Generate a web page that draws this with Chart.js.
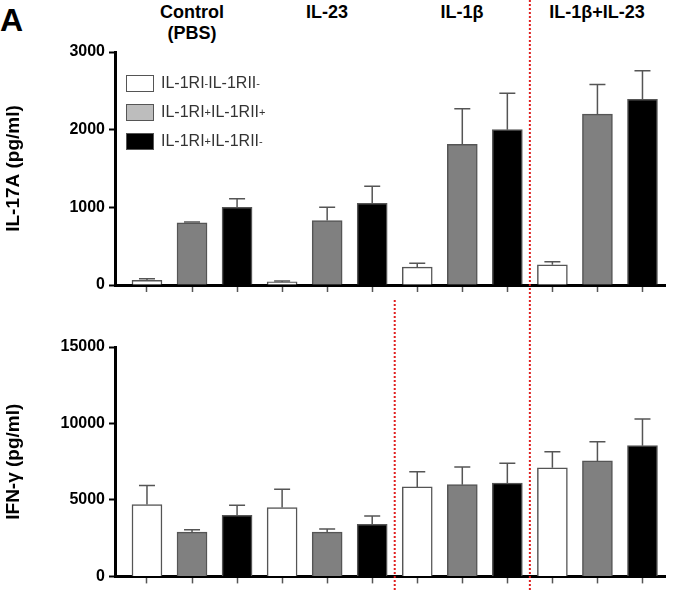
<!DOCTYPE html>
<html><head><meta charset="utf-8">
<script src="https://cdn.jsdelivr.net/npm/chart.js@4"></script>
<style>
body{margin:0;width:681px;height:590px;background:#fff;position:relative;font-family:Arial,"Liberation Sans",sans-serif;overflow:hidden}
canvas{position:absolute;left:0}
.hd{position:absolute;font-weight:bold;font-size:18px;text-align:center;transform:translateX(-50%);line-height:21px;color:#000;white-space:nowrap}
.lg{position:absolute;left:126px;font-size:16px;color:#333;display:flex;align-items:center;white-space:nowrap}
.lg span{display:inline-block;width:28px;height:17px;border:1.5px solid #555;margin-right:7px;box-sizing:border-box}
sup{font-size:11px;vertical-align:6px;line-height:0}
</style></head>
<body>
<div class="hd" style="left:0;top:2px;transform:none;font-size:32px;line-height:36px">A</div>
<div class="hd" style="left:192px;top:2px">Control<br>(PBS)</div>
<div class="hd" style="left:327px;top:2px">IL-23</div>
<div class="hd" style="left:462px;top:2px">IL-1β</div>
<div class="hd" style="left:597px;top:2px">IL-1β+IL-23</div>
<canvas id="top" width="681" height="300" style="top:0"></canvas>
<canvas id="bot" width="681" height="290" style="top:300px"></canvas>
<div class="lg" style="top:74px"><span style="background:#fff"></span>IL-1RI<sup>-</sup>IL-1RII<sup>-</sup></div>
<div class="lg" style="top:103px"><span style="background:#bdbdbd"></span>IL-1RI<sup>+</sup>IL-1RII<sup>+</sup></div>
<div class="lg" style="top:132px"><span style="background:#000"></span>IL-1RI<sup>+</sup>IL-1RII<sup>-</sup></div>
<script>
const groups = ['Control (PBS)', 'IL-23', 'IL-1β', 'IL-1β+IL-23'];
const barColors = ['#ffffff', '#808080', '#000000'];
const il17Values = [60, 800, 1000, 40, 830, 1050, 230, 1810, 2000, 260, 2200, 2390];
const il17Errors = [20, 10, 110, 10, 170, 220, 50, 460, 470, 40, 380, 370];
const ifnValues = [4700, 2900, 4000, 4500, 2900, 3400, 5850, 6000, 6100, 7100, 7550, 8550];
const ifnErrors = [1250, 150, 650, 1200, 200, 550, 1000, 1150, 1300, 1050, 1250, 1750];
const il17Ticks = [0, 1000, 2000, 3000];
const ifnTicks = [0, 5000, 10000, 15000];
const dividers = [3.5, 6.5, 9.5];

const errPlugin = {
  id: 'err',
  afterDatasetsDraw(chart, args, opts) {
    const ctx = chart.ctx, y = chart.scales.y;
    const meta = chart.getDatasetMeta(0);
    ctx.save();
    ctx.strokeStyle = '#555'; ctx.lineWidth = 1.5;
    meta.data.forEach((bar, i) => {
      const top = y.getPixelForValue(opts.values[i] + opts.errors[i]);
      ctx.beginPath();
      ctx.moveTo(bar.x, bar.y); ctx.lineTo(bar.x, top);
      ctx.moveTo(bar.x - 8, top); ctx.lineTo(bar.x + 8, top);
      ctx.stroke();
    });
    // dotted red dividers
    ctx.strokeStyle = '#e02020'; ctx.lineWidth = 2; ctx.setLineDash([2, 2]);
    dividers.forEach((d, k) => {
      const x = chart.scales.x.getPixelForValue(d);
      (opts.segs[k] || [[0, chart.height]]).forEach(s => {
        ctx.beginPath(); ctx.moveTo(x, s[0]); ctx.lineTo(x, s[1]); ctx.stroke();
      });
    });
    ctx.restore();
  }
};

function makeChart(id, values, errors, ticks, title, padTop, bottomH, segs) {
  const xs = values.map((v, i) => ({ x: i + 1, y: v }));
  new Chart(document.getElementById(id), {
    type: 'bar',
    data: { datasets: [{
      data: xs,
      backgroundColor: values.map((v, i) => barColors[i % 3]),
      borderColor: '#555', borderWidth: 1.5, borderSkipped: 'bottom',
      barThickness: 30
    }] },
    options: {
      responsive: false, animation: false,
      layout: { padding: { top: padTop, left: 0, right: 16, bottom: 0 } },
      plugins: { legend: { display: false }, tooltip: { enabled: false },
        err: { values, errors, segs } },
      scales: {
        x: {
          type: 'linear', min: 0.29, max: 12.5, offset: false,
          afterFit: s => { s.height = bottomH; },
          ticks: { stepSize: 1, includeBounds: false, callback: () => '' },
          grid: { drawOnChartArea: false, offset: false, color: '#000', tickLength: 7, tickColor: '#555', tickWidth: 1.5 },
          border: { color: '#000', width: 3 }
        },
        y: {
          min: ticks[0], max: ticks[ticks.length - 1],
          afterFit: s => { s.width = 115; },
          afterBuildTicks: s => { s.ticks = ticks.map(v => ({ value: v })); },
          ticks: { color: '#000', font: { size: 16, weight: 'bold', family: 'Arial' }, padding: 4, callback: v => String(v) },
          grid: { drawOnChartArea: false, tickLength: 6, tickColor: '#000', tickWidth: 2 },
          border: { color: '#000', width: 3 },
          title: { display: true, text: title, color: '#000', font: { size: 19, weight: 'bold', family: 'Arial' }, padding: 2 }
        }
      }
    },
    plugins: [errPlugin]
  });
}

makeChart('top', il17Values, il17Errors, il17Ticks, 'IL-17A (pg/ml)', 52, 15,
  [[42, 68], [170, 300]]);
makeChart('bot', ifnValues, ifnErrors, ifnTicks, 'IFN-γ (pg/ml)', 47, 9,
  [[0, 290]]);
</script>
</body></html>
